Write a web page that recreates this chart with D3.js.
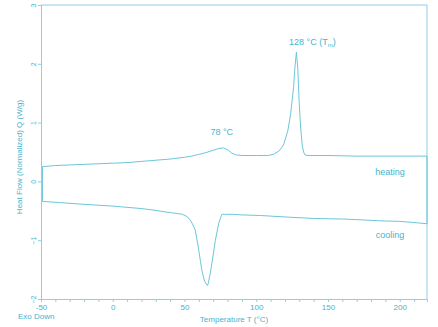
<!DOCTYPE html>
<html>
<head>
<meta charset="utf-8">
<title>DSC</title>
<style>
body { margin: 0; background: #fff; }
svg text { font-family: "Liberation Sans", Arial, sans-serif; fill: #45b4cc; }
.axis path, .axis line { fill: none; stroke: #8fd0e0; }
</style>
</head>
<body>
<script src="https://cdn.jsdelivr.net/npm/d3@7"></script>
<script>

// heating scan (°C, W/g)
var heatT = [-49, -40, -30, -20, -10, 0, 10, 20, 30, 40, 50, 55, 60, 65, 70, 74, 77, 80, 83, 86, 90, 100, 108, 112, 116, 119, 122, 124, 126, 127, 128, 129, 130, 131, 132, 133, 134, 136, 150, 170, 190, 210, 219];
var heatQ = [0.25, 0.27, 0.28, 0.29, 0.30, 0.31, 0.32, 0.34, 0.36, 0.38, 0.41, 0.43, 0.46, 0.49, 0.53, 0.56, 0.57, 0.54, 0.48, 0.45, 0.44, 0.44, 0.44, 0.46, 0.52, 0.62, 0.86, 1.15, 1.6, 1.95, 2.2, 1.9, 1.3, 0.9, 0.62, 0.5, 0.45, 0.44, 0.44, 0.43, 0.43, 0.43, 0.43];
// cooling scan, from hot end back to cold end
var coolT = [219, 210, 200, 186, 170, 160, 140, 124, 103, 90, 84, 78, 76, 74, 71.5, 70, 68, 66.5, 66, 64, 62, 61, 59.5, 57.5, 55.5, 54, 52, 48.5, 40, 26, 19, 0, -20, -37, -49];
var coolQ = [-0.72, -0.70, -0.68, -0.67, -0.65, -0.64, -0.63, -0.61, -0.58, -0.57, -0.56, -0.56, -0.56, -0.70, -1.0, -1.25, -1.56, -1.74, -1.77, -1.7, -1.5, -1.34, -1.1, -0.83, -0.72, -0.66, -0.6, -0.56, -0.53, -0.48, -0.46, -0.42, -0.39, -0.36, -0.34];

var xTicks = [-50, 0, 50, 100, 150, 200];
var yTicks = [-2, -1, 0, 1, 2, 3];

var w = 438, h = 327;
var padL = 41, padR = 427, padT = 5, padB = 299;

var x = d3.scaleLinear().domain([-50, 219]).range([padL, padR]);
var y = d3.scaleLinear().domain([-2, 3]).range([padB, padT]);

var svg = d3.select("body").append("svg")
  .attr("width", w)
  .attr("height", h);

// frame top / right
svg.append("line").attr("x1", padL).attr("x2", padR).attr("y1", padT).attr("y2", padT)
  .attr("stroke", "#8fd0e0");
svg.append("line").attr("x1", padR).attr("x2", padR).attr("y1", padT).attr("y2", padB)
  .attr("stroke", "#8fd0e0");

var xAxis = d3.axisBottom(x).tickValues(d3.range(-50, 220, 10)).tickSize(3)
  .tickFormat(function(d){ return xTicks.indexOf(d) >= 0 ? d : ""; });
svg.append("g")
  .attr("class", "axis")
  .attr("transform", "translate(0," + padB + ")")
  .call(xAxis)
  .call(function(g){ g.selectAll("text").attr("font-size", 8).attr("fill", null).attr("dy", "0.6em"); });

var yAxis = d3.axisLeft(y).tickValues(yTicks).tickSize(3).tickFormat(d3.format("d"));
svg.append("g")
  .attr("class", "axis")
  .attr("transform", "translate(" + padL + ",0)")
  .call(yAxis)
  .call(function(g){
    g.selectAll("text").attr("font-size", 7).attr("fill", null)
      .attr("x", 0).attr("dy", 0)
      .attr("text-anchor", "middle")
      .attr("transform", "translate(-5,0) rotate(-90)");
  });

// curve: heating, isothermal at the hot end, cooling, back up at the cold end
var pts = [];
heatT.forEach(function(t, i){ pts.push([t, heatQ[i]]); });
coolT.forEach(function(t, i){ pts.push([t, coolQ[i]]); });
pts.push([heatT[0], heatQ[0]]);

var line = d3.line()
  .x(function(d){ return x(d[0]); })
  .y(function(d){ return y(d[1]); });

svg.append("path")
  .datum(pts)
  .attr("d", line)
  .attr("fill", "none")
  .attr("stroke", "#6cc6da")
  .attr("stroke-width", 1);

// labels
svg.append("text").attr("x", x(76)).attr("y", y(0.56) - 13)
  .attr("text-anchor", "middle").attr("font-size", 9).text("78 °C");
var tm = svg.append("text").attr("x", x(128) + 16).attr("y", 45)
  .attr("text-anchor", "middle").attr("font-size", 9);
tm.append("tspan").text("128 °C (T");
tm.append("tspan").attr("font-size", 6).attr("dy", 2).text("m");
tm.append("tspan").attr("dy", -2).text(")");
svg.append("text").attr("x", 390).attr("y", 175)
  .attr("text-anchor", "middle").attr("font-size", 9).text("heating");
svg.append("text").attr("x", 390).attr("y", 238)
  .attr("text-anchor", "middle").attr("font-size", 9).text("cooling");

svg.append("text").attr("x", 234).attr("y", 322)
  .attr("text-anchor", "middle").attr("font-size", 8).text("Temperature T (°C)");
svg.append("text").attr("x", 18).attr("y", 319)
  .attr("font-size", 8).text("Exo Down");
svg.append("text")
  .attr("transform", "translate(22," + ((88 + 226) / 2) + ") rotate(-90)")
  .attr("text-anchor", "middle").attr("font-size", 8)
  .text("Heat Flow (Normalized) Q (W/g)");

</script>
</body>
</html>
